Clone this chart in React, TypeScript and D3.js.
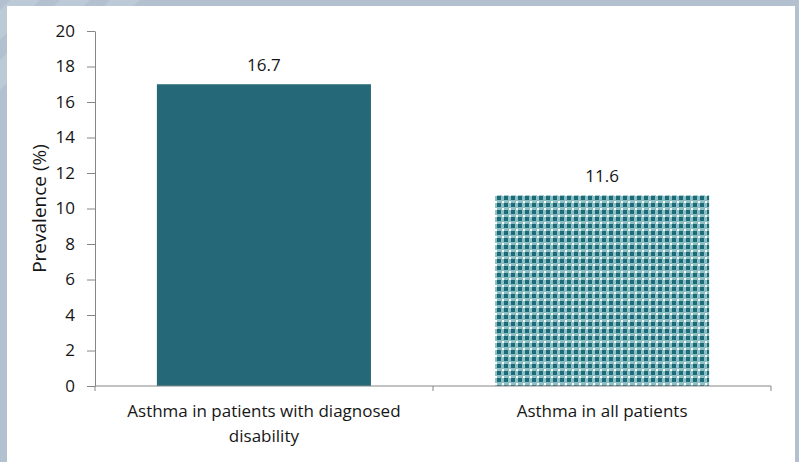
import * as React from 'react';
import {useEffect, useRef} from 'react';
import * as d3 from 'd3';

const categories = ['Asthma in patients with diagnosed disability', 'Asthma in all patients'];
const categoryLines = [['Asthma in patients with diagnosed', 'disability'], ['Asthma in all patients']];
// bar heights as drawn in the picture, and the labels printed above them
const barValues = [17.0, 10.75];
const valueLabels = ['16.7', '11.6'];
const yTicks = [0, 2, 4, 6, 8, 10, 12, 14, 16, 18, 20];

const W = 799;
const H = 462;
const FONT = '"Open Sans", "Liberation Sans", sans-serif';
const TEXT = '#161616';

export default function App() {
  const ref = useRef<SVGSVGElement>(null);

  useEffect(() => {
    const svg = d3.select(ref.current)
      .attr('width', W)
      .attr('height', H)
      .style('font-family', FONT);

    svg.selectAll('*').remove();

    const defs = svg.append('defs');
    const pat = defs.append('pattern')
      .attr('id', 'grid')
      .attr('patternUnits', 'userSpaceOnUse')
      .attr('width', 7)
      .attr('height', 7);
    pat.append('rect').attr('width', 7).attr('height', 7).attr('fill', '#ffffff');
    // dotted light teal in the gaps
    pat.append('rect').attr('x', 0).attr('y', 4).attr('width', 7).attr('height', 3).attr('fill', '#8cc0c5');
    pat.append('rect').attr('x', 4).attr('y', 0).attr('width', 3).attr('height', 7).attr('fill', '#8cc0c5');
    pat.append('rect').attr('x', 5).attr('y', 5).attr('width', 2).attr('height', 2).attr('fill', '#ffffff');
    pat.append('rect').attr('width', 4).attr('height', 4).attr('fill', '#1d6b78');

    // page background with the slide frame
    svg.append('rect').attr('width', W).attr('height', H).attr('fill', '#b2c0cf');
    const stripes = [-40, 10, 60, 110];
    svg.append('g')
      .selectAll('path')
      .data(stripes)
      .join('path')
      .attr('d', d => `M${d},0 L${d + 30},0 L${d - 60},90 L${d - 90},90 Z`)
      .attr('fill', '#c3cfdb')
      .attr('opacity', 0.6);
    svg.append('rect')
      .attr('x', 7).attr('y', 6)
      .attr('width', 788).attr('height', H - 6)
      .attr('fill', '#ffffff');

    const margin = {left: 95, right: 28, top: 31, bottom: 76};
    const x = d3.scaleBand<string>()
      .domain(categories)
      .range([margin.left, W - margin.right])
      .paddingInner(0.367)
      .paddingOuter(0.183);
    const y = d3.scaleLinear()
      .domain([0, 20])
      .range([H - margin.bottom, margin.top]);

    // bars
    svg.append('g')
      .selectAll('rect')
      .data(categories)
      .join('rect')
      .attr('x', d => x(d)!)
      .attr('width', x.bandwidth())
      .attr('y', (d, i) => y(barValues[i]))
      .attr('height', (d, i) => y(0) - y(barValues[i]))
      .attr('fill', (d, i) => i === 0 ? '#256877' : 'url(#grid)');

    // value labels
    svg.append('g')
      .selectAll('text')
      .data(categories)
      .join('text')
      .attr('x', d => x(d)! + x.bandwidth() / 2)
      .attr('y', (d, i) => y(barValues[i]) - 13)
      .attr('text-anchor', 'middle')
      .attr('font-size', 17)
      .attr('fill', TEXT)
      .text((d, i) => valueLabels[i]);

    // y axis
    const yAxis = svg.append('g')
      .attr('transform', `translate(${margin.left},0)`)
      .call(d3.axisLeft(y).tickValues(yTicks).tickSize(8).tickPadding(12).tickSizeOuter(0));
    yAxis.select('.domain').attr('stroke', '#868686');
    yAxis.selectAll('line').attr('stroke', '#868686');
    yAxis.selectAll('text')
      .attr('font-family', FONT)
      .attr('font-size', 17)
      .attr('fill', TEXT);

    // x axis
    const xAxisG = svg.append('g').attr('transform', `translate(0,${y(0)})`);
    xAxisG.append('line')
      .attr('x1', margin.left).attr('x2', W - margin.right)
      .attr('stroke', '#868686');
    const xEdges = [margin.left, margin.left + (W - margin.right - margin.left) / 2, W - margin.right];
    xAxisG.selectAll('line.tick')
      .data(xEdges)
      .join('line')
      .attr('class', 'tick')
      .attr('x1', d => d).attr('x2', d => d)
      .attr('y1', 0).attr('y2', 5)
      .attr('stroke', '#868686');

    // category labels
    const cat = svg.append('g')
      .selectAll('text')
      .data(categories)
      .join('text')
      .attr('x', d => x(d)! + x.bandwidth() / 2)
      .attr('y', y(0) + 31)
      .attr('text-anchor', 'middle')
      .attr('font-size', 17)
      .attr('fill', TEXT);
    cat.selectAll('tspan')
      .data((d, i) => categoryLines[i].map(t => ({t, x: x(d)! + x.bandwidth() / 2})))
      .join('tspan')
      .attr('x', d => d.x)
      .attr('dy', (d, i) => i === 0 ? 0 : 25)
      .text(d => d.t);

    // y axis title
    svg.append('text')
      .attr('transform', `translate(46,${(y(0) + y(20)) / 2}) rotate(-90)`)
      .attr('text-anchor', 'middle')
      .attr('font-size', 19)
      .attr('fill', TEXT)
      .text('Prevalence (%)');
  }, []);

  return <svg ref={ref} style={{position: 'absolute', left: 0, top: 0, display: 'block'}}/>;
}
